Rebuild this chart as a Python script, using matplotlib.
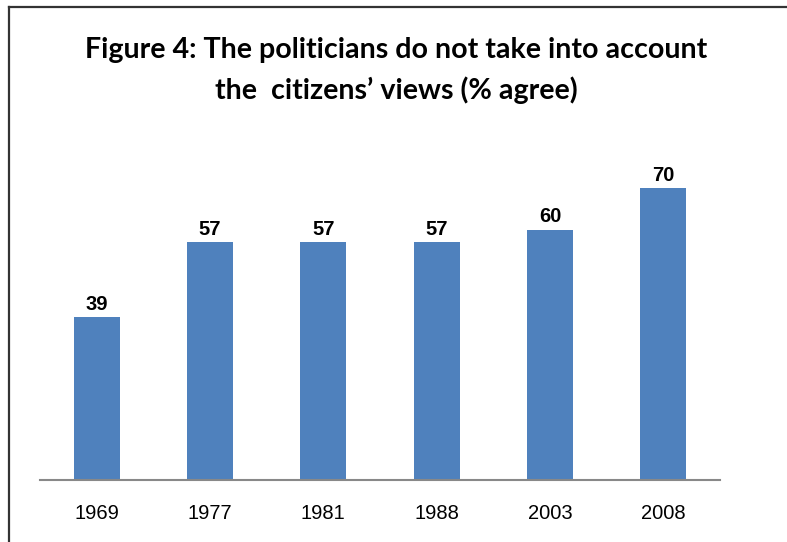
import matplotlib
matplotlib.use("Agg")
import matplotlib.pyplot as plt
from matplotlib.lines import Line2D

years = ["1969", "1977", "1981", "1988", "2003", "2008"]
values = [39, 57, 57, 57, 60, 70]
title_lines = ["Figure 4: The politicians do not take into account", "the  citizens\u2019 views (% agree)"]

W, H = 787, 542
fig = plt.figure(figsize=(W / 100, H / 100), dpi=100)
fig.patch.set_facecolor("white")

# axes: x 40..720, y baseline 480, 4.17 px per unit, ylim 0..80
ax_left, ax_right = 40, 720
base_y = 480
ymax = 80
px_per_unit = 4.17
top_y = base_y - ymax * px_per_unit
ax = fig.add_axes([ax_left / W, 1 - base_y / H, (ax_right - ax_left) / W, (base_y - top_y) / H])

x = list(range(len(years)))
bars = ax.bar(x, values, width=0.407, color="#4F81BD", zorder=2)
ax.set_xlim(-0.5, len(years) - 0.5)
ax.set_ylim(0, ymax)

for xi, v in zip(x, values):
    ax.annotate(str(v), (xi, v), xytext=(0, 2.5), textcoords="offset points",
                ha="center", va="bottom", fontsize=14.5, fontweight="bold",
                family="Liberation Sans", color="black")

ax.set_xticks(x)
ax.set_xticklabels(years, family="Liberation Sans", fontsize=14.5)
ax.tick_params(axis="x", length=0, pad=17)
ax.set_yticks([])
for s in ["top", "right", "left"]:
    ax.spines[s].set_visible(False)
ax.spines["bottom"].set_color("#888888")
ax.spines["bottom"].set_linewidth(1.5)

fig.text(396 / W, 1 - 50 / H, title_lines[0], ha="center", va="center",
         fontsize=20.6, fontweight="bold", family="Lato")
fig.text(396 / W, 1 - 90 / H, title_lines[1], ha="center", va="center",
         fontsize=20.6, fontweight="bold", family="Lato")

# frame (left and top edges visible)
fig.add_artist(Line2D([9 / W, 9 / W], [0, 1 - 7 / H], transform=fig.transFigure,
                      color="#333333", linewidth=1.6))
fig.add_artist(Line2D([9 / W, 1], [1 - 7 / H, 1 - 7 / H], transform=fig.transFigure,
                      color="#333333", linewidth=1.6))

fig.savefig("out.png", dpi=100, facecolor="white")
